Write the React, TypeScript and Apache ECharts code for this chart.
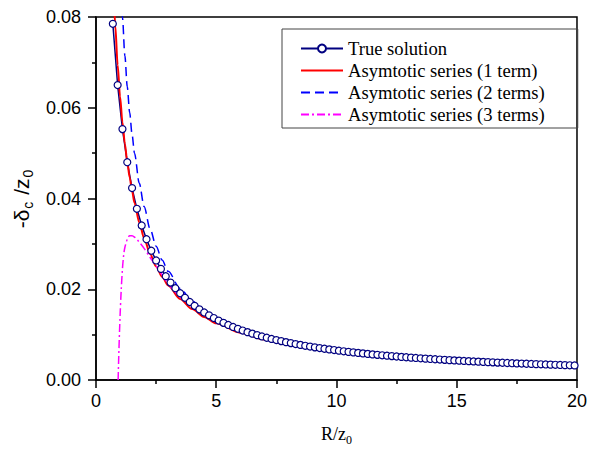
import React, { useEffect, useRef } from "react";
import * as echarts from "echarts";

const xTicks = { min: 0, max: 20, interval: 5 };
const yTicks = { min: 0, max: 0.08, interval: 0.02 };

const seriesNames = [
  "True solution",
  "Asymtotic series (1 term)",
  "Asymtotic series (2 terms)",
  "Asymtotic series (3 terms)",
];

const trueR = [0.7,0.9,1.1,1.3,1.5,1.7,1.9,2.1,2.3,2.5,2.7,2.9,3.1,3.3,3.5,3.7,3.9,4.1,4.3,4.5,4.7,4.9,5.1,5.3,5.5,5.7,5.9,6.1,6.3,6.5,6.7,6.9,7.1,7.3,7.5,7.7,7.9,8.1,8.3,8.5,8.7,8.9,9.1,9.3,9.5,9.7,9.9,10.1,10.3,10.5,10.7,10.9,11.1,11.3,11.5,11.7,11.9,12.1,12.3,12.5,12.7,12.9,13.1,13.3,13.5,13.7,13.9,14.1,14.3,14.5,14.7,14.9,15.1,15.3,15.5,15.7,15.9,16.1,16.3,16.5,16.7,16.9,17.1,17.3,17.5,17.7,17.9,18.1,18.3,18.5,18.7,18.9,19.1,19.3,19.5,19.7,19.9];
const trueY = [0.0785,0.065,0.0553,0.048,0.0423,0.03773,0.03405,0.03103,0.02849,0.02634,0.02449,0.02288,0.02147,0.02023,0.01912,0.01812,0.01719,0.01634,0.01557,0.01488,0.01425,0.01366,0.0131,0.0126,0.01213,0.01169,0.01128,0.0109,0.01054,0.01021,0.00989,0.0096,0.00931,0.00905,0.0088,0.00857,0.00834,0.00813,0.00792,0.00773,0.00754,0.00737,0.0072,0.00704,0.00689,0.00674,0.0066,0.00646,0.00633,0.0062,0.00609,0.00597,0.00586,0.00575,0.00564,0.00554,0.00545,0.00536,0.00527,0.00518,0.00509,0.00501,0.00493,0.00486,0.00478,0.00471,0.00464,0.00457,0.00451,0.00444,0.00438,0.00432,0.00426,0.0042,0.00415,0.00409,0.00404,0.00399,0.00394,0.00389,0.00384,0.0038,0.00375,0.0037,0.00366,0.00362,0.00358,0.00354,0.0035,0.00346,0.00342,0.00339,0.00335,0.00331,0.00328,0.00324,0.00321];

const oneR = [0.75,0.8,0.9,1.0,1.1,1.2,1.3,1.4,1.5,1.6,1.8,2.0,2.25,2.5,2.75,3,3.5,4,4.5,5,6,7,8,9,10,11,12,13,14,15,16,17,18,19,20];
const oneY = [0.08333,0.07813,0.06944,0.0625,0.05682,0.05208,0.04808,0.04464,0.04167,0.03906,0.03472,0.03125,0.02778,0.025,0.02273,0.02083,0.01786,0.01563,0.01389,0.0125,0.01042,0.00893,0.00781,0.00694,0.00625,0.00568,0.00521,0.00481,0.00446,0.00417,0.00391,0.00368,0.00347,0.00329,0.00313];

const twoR = [1.0,1.1,1.2,1.3,1.4,1.5,1.6,1.8,2.0,2.25,2.5,2.75,3.0,3.5,4.0,4.5,5,6,7,8,9,10,12,14,16,18,20];
const twoY = [0.0905,0.0799,0.07152,0.06465,0.05893,0.05411,0.05,0.04336,0.03825,0.03331,0.02948,0.02643,0.02394,0.02015,0.01738,0.01527,0.01362,0.0112,0.0095,0.00825,0.00729,0.00653,0.0054,0.0046,0.00402,0.00356,0.0032];

const threeR = [0.92,0.95,1.0,1.05,1.1,1.15,1.2,1.3,1.4,1.5,1.6,1.75,2.0,2.25,2.5,2.75,3.0,3.5,4.0,4.5,5,6,7,8,9,10,12,14,16,18,20];
const threeY = [0,0.006,0.014,0.02,0.0245,0.0275,0.0292,0.031,0.0318,0.0318,0.0315,0.0307,0.029,0.027,0.0251,0.0232,0.0212,0.0183,0.0162,0.0144,0.01299,0.01084,0.00927,0.0081,0.00718,0.00645,0.00535,0.00457,0.004,0.00355,0.00319];

const zip = (xs: number[], ys: number[]) => xs.map((x, i) => [x, ys[i]]);

export default function App() {
  const ref = useRef<HTMLDivElement>(null);
  useEffect(() => {
    if (!ref.current) return;
    const chart = echarts.init(ref.current, null, { renderer: "svg" });
    const axisLabel = { color: "#000", fontFamily: "Liberation Sans", fontSize: 18 };
    chart.setOption({
      animation: false,
      backgroundColor: "#fff",
      grid: {
        left: 96, right: 8, top: 17, bottom: 72,
        show: true, borderColor: "#000", borderWidth: 1.5,
      },
      legend: {
        orient: "vertical",
        left: 282,
        top: 29,
        padding: [10, 33, 4, 18],
        itemWidth: 42,
        itemHeight: 10,
        itemGap: 3,
        borderColor: "#444",
        borderWidth: 1,
        textStyle: { fontFamily: "Liberation Serif", fontSize: 18.6, color: "#000" },
        data: [
          { name: seriesNames[0] },
          { name: seriesNames[1], itemStyle: { opacity: 0 } },
          { name: seriesNames[2], itemStyle: { opacity: 0 } },
          { name: seriesNames[3], itemStyle: { opacity: 0 } },
        ],
      },
      xAxis: {
        type: "value",
        min: xTicks.min, max: xTicks.max, interval: xTicks.interval,
        name: "R/z{s|0}",
        nameLocation: "middle",
        nameGap: 42,
        nameTextStyle: {
          fontFamily: "Liberation Serif", fontSize: 18, color: "#000",
          rich: { s: { fontFamily: "Liberation Serif", fontSize: 12, padding: [12, 0, 0, 0] } },
        },
        axisLine: { onZero: false, lineStyle: { color: "#000", width: 1.5 } },
        axisTick: { inside: false, length: 8, lineStyle: { color: "#000", width: 1.5 } },
        minorTick: { show: true, splitNumber: 2, length: 4, lineStyle: { color: "#000", width: 1.5 } },
        splitLine: { show: false },
        axisLabel: { ...axisLabel, margin: 12 },
      },
      yAxis: {
        type: "value",
        min: yTicks.min, max: yTicks.max, interval: yTicks.interval,
        name: "-δ{s|c} /z{s|0}",
        nameLocation: "middle",
        nameGap: 60,
        nameTextStyle: {
          fontFamily: "Liberation Sans", fontSize: 21, color: "#000",
          rich: { s: { fontFamily: "Liberation Sans", fontSize: 14, padding: [13, 1, 0, 1] } },
        },
        axisLine: { onZero: false, lineStyle: { color: "#000", width: 1.5 } },
        axisTick: { inside: false, length: 8, lineStyle: { color: "#000", width: 1.5 } },
        minorTick: { show: true, splitNumber: 2, length: 4, lineStyle: { color: "#000", width: 1.5 } },
        splitLine: { show: false },
        axisLabel: { ...axisLabel, margin: 15, formatter: (v: number) => v.toFixed(2) },
      },
      series: [
        {
          name: seriesNames[0],
          type: "line",
          data: zip(trueR, trueY),
          symbol: "circle",
          symbolSize: 7,
          showSymbol: true,
          itemStyle: { color: "#fff", borderColor: "#000080", borderWidth: 1.2 },
          lineStyle: { color: "#000080", width: 1.5 },
        },
        {
          name: seriesNames[1],
          type: "line",
          data: zip(oneR, oneY),
          symbol: "none",
          smooth: 0.3,
          smoothMonotone: "x",
          itemStyle: { color: "#ff0000" },
          lineStyle: { color: "#ff0000", width: 2 },
        },
        {
          name: seriesNames[2],
          type: "line",
          data: zip(twoR, twoY),
          symbol: "none",
          smooth: 0.3,
          smoothMonotone: "x",
          itemStyle: { color: "#0000ff" },
          lineStyle: { color: "#0000ff", width: 1.5, type: [9, 5] },
        },
        {
          name: seriesNames[3],
          type: "line",
          data: zip(threeR, threeY),
          symbol: "none",
          smooth: 0.3,
          itemStyle: { color: "#ff00ff" },
          lineStyle: { color: "#ff00ff", width: 1.5, type: [8, 3, 2, 3] },
        },
      ],
    });
    return () => chart.dispose();
  }, []);
  return (
    <div
      ref={ref}
      style={{ position: "fixed", left: 0, top: 0, width: 590, height: 452 }}
    />
  );
}
